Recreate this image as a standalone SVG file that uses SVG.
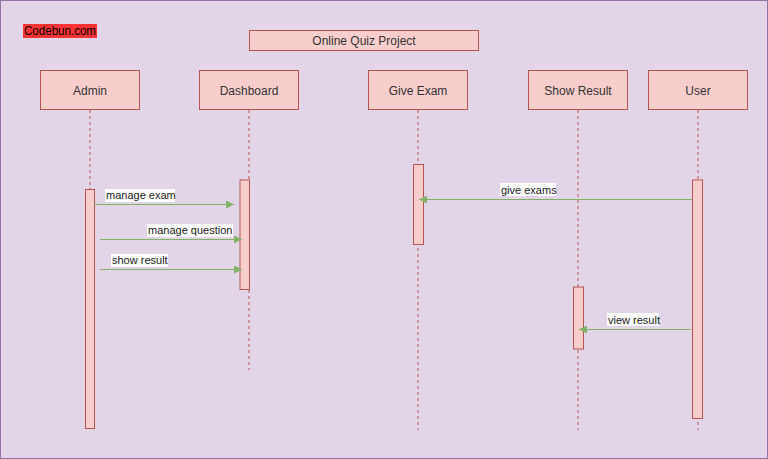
<svg xmlns="http://www.w3.org/2000/svg" width="768" height="459" viewBox="0 0 768 459">
<style>
.box{fill:#F8CECC;stroke:#B85450;stroke-width:1}
.act{fill:#F8CECC;stroke:#B85450;stroke-width:1}
.life{stroke:#B85450;stroke-width:1;stroke-dasharray:3 3;fill:none}
.msg{stroke:#82B366;stroke-width:1;fill:none}
.nt{font-family:"Liberation Sans",Arial,sans-serif;font-size:12px;fill:#333333;text-anchor:middle}
.ml{font-family:"Liberation Sans",Arial,sans-serif;font-size:11px;fill:#1a1a1a}
.lb{fill:#FFFFFF}
</style>
<defs>
<marker id="arr" viewBox="0 0 10 10" refX="10" refY="5" markerWidth="9" markerHeight="8" markerUnits="userSpaceOnUse" orient="auto">
<path d="M0,0 L10,5 L0,10 Z" fill="#82B366"/>
</marker>
</defs>
<rect x="0.5" y="0.5" width="767" height="458" fill="#E1D5E7" stroke="#9673A6" stroke-width="1"/>
<g id="codebun">
<rect x="23" y="24" width="74" height="14" fill="#FF3333"/>
<text x="24" y="35" font-family="Liberation Sans,Arial,sans-serif" font-size="12" fill="#000000" textLength="72" lengthAdjust="spacingAndGlyphs">Codebun.com</text>
</g>
<g id="title">
<rect class="box" x="249.5" y="30.5" width="229" height="20"/>
<text class="nt" x="364" y="44.5">Online Quiz Project</text>
</g>
<g id="lifelines">
<line class="life" x1="90" y1="110" x2="90" y2="189"/>
<line class="life" x1="249" y1="110" x2="249" y2="370"/>
<line class="life" x1="418" y1="110" x2="418" y2="430"/>
<line class="life" x1="578" y1="110" x2="578" y2="430"/>
<line class="life" x1="698" y1="110" x2="698" y2="430"/>
</g>
<g id="admin">
<rect class="box" x="40.5" y="70.5" width="99" height="39"/>
<text class="nt" x="90" y="94.5">Admin</text>
<rect class="act" x="85.5" y="189.5" width="9" height="239"/>
</g>
<g id="dashboard">
<rect class="box" x="199.5" y="70.5" width="99" height="39"/>
<text class="nt" x="249" y="94.5">Dashboard</text>
<rect class="act" x="240" y="180" width="9.5" height="109.5"/>
</g>
<g id="giveexam">
<rect class="box" x="368.5" y="70.5" width="99" height="39"/>
<text class="nt" x="418" y="94.5">Give Exam</text>
<rect class="act" x="413.5" y="164.5" width="10" height="80"/>
</g>
<g id="showresult">
<rect class="box" x="528.5" y="70.5" width="99" height="39"/>
<text class="nt" x="578" y="94.5">Show Result</text>
<rect class="act" x="573.5" y="287" width="10" height="62"/>
</g>
<g id="user">
<rect class="box" x="648.5" y="70.5" width="99" height="39"/>
<text class="nt" x="698" y="94.5">User</text>
<rect class="act" x="692.5" y="180" width="10" height="238.5"/>
</g>
<g id="connectors">
<line class="msg" x1="94" y1="204.5" x2="234" y2="204.5" marker-end="url(#arr)"/>
<rect class="lb" x="105" y="189" width="70" height="13"/>
<text class="ml" x="106" y="199">manage exam</text>
<line class="msg" x1="100" y1="239.5" x2="242" y2="239.5" marker-end="url(#arr)"/>
<rect class="lb" x="147" y="224" width="86" height="13"/>
<text class="ml" x="148" y="234">manage question</text>
<line class="msg" x1="100" y1="269.5" x2="242" y2="269.5" marker-end="url(#arr)"/>
<rect class="lb" x="111" y="254" width="57" height="13"/>
<text class="ml" x="112" y="264">show result</text>
<line class="msg" x1="692" y1="199.5" x2="419" y2="199.5" marker-end="url(#arr)"/>
<rect class="lb" x="500" y="183" width="56" height="13"/>
<text class="ml" x="501" y="193.5">give exams</text>
<line class="msg" x1="691" y1="329.5" x2="579" y2="329.5" marker-end="url(#arr)"/>
<rect class="lb" x="607" y="313" width="52" height="13"/>
<text class="ml" x="608" y="323.5">view result</text>
</g>
</svg>
